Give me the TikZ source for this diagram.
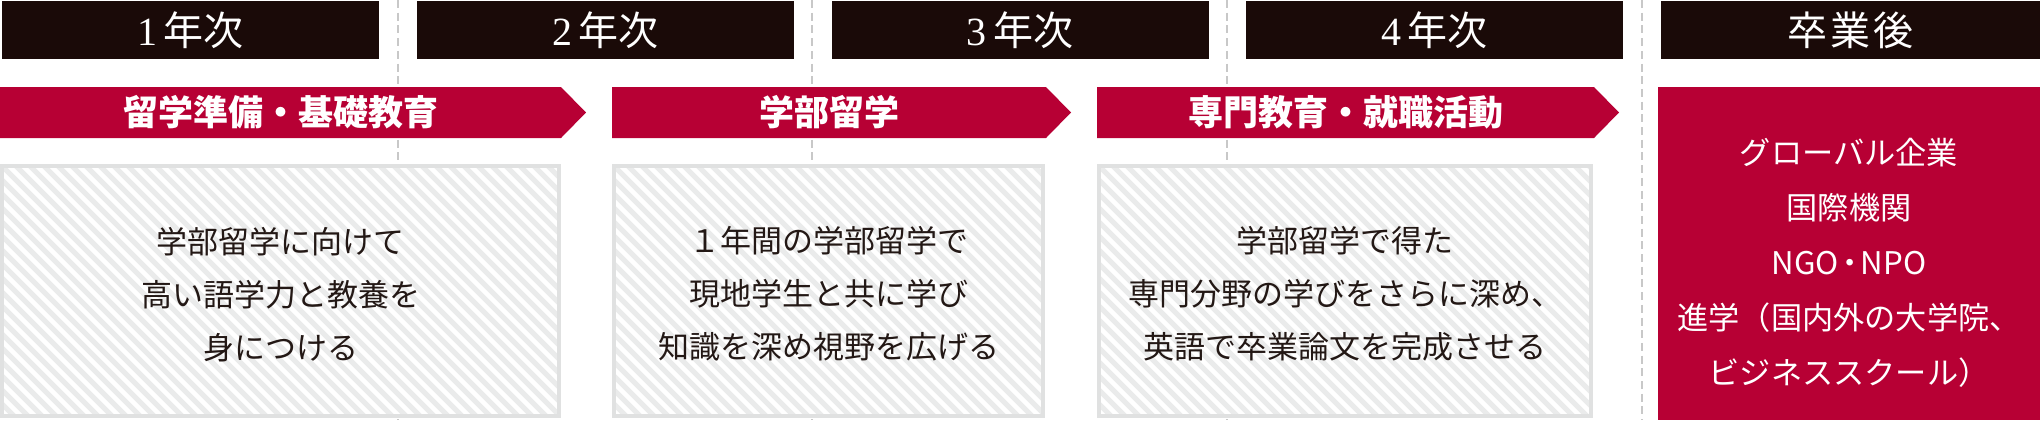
\documentclass[tikz,border=0pt]{standalone}
\usepackage{fontspec}
\setmainfont{Noto Sans CJK JP}
\newfontfamily\serifnum{Liberation Serif}
\definecolor{hdr}{RGB}{26,10,8}
\definecolor{crim}{RGB}{183,0,52}
\definecolor{bodytxt}{RGB}{35,24,21}
\definecolor{framegray}{RGB}{224,225,225}
\definecolor{stripecol}{RGB}{234,235,235}
\definecolor{dashgray}{RGB}{200,200,200}
\begin{document}
\begin{tikzpicture}[x=0.5pt,y=-0.5pt,
  yearbox/.style={fill=hdr, text=white, inner sep=0pt, minimum width=188.5pt, minimum height=29pt, font=\fontsize{20}{20}\selectfont},
  phaselbl/.style={text=white, inner sep=0pt, font=\fontsize{17.5}{17.5}\selectfont\bfseries},
  phasearrow/.style={fill=crim},
  hatchbox/.style={draw=framegray, line width=2pt, fill=white, inner sep=0pt, minimum height=125pt,
    path picture={\foreach \k in {-22,...,45}{\draw[stripecol, line width=2.6pt] ([xshift=\k*7pt]path picture bounding box.north west) -- ++(150pt,-150pt);}}},
  bodytext/.style={text=bodytxt, align=center, inner sep=0pt, font=\fontsize{15.5}{26.5}\selectfont},
  futbox/.style={fill=crim, inner sep=0pt, minimum width=191pt, minimum height=166.5pt},
  futtext/.style={text=white, align=center, inner sep=0pt, font=\fontsize{15.6}{27.5}\selectfont},
  divider/.style={draw=dashgray, line width=1pt, dash pattern=on 4pt off 2.35pt},
]
\useasboundingbox (0,0) rectangle (2040,420);
% dividers
\coordinate (d1t) at (398,0);  \coordinate (d1b) at (398,420);
\coordinate (d2t) at (812,0);  \coordinate (d2b) at (812,420);
\coordinate (d3t) at (1227,0); \coordinate (d3b) at (1227,420);
\coordinate (d4t) at (1642,0); \coordinate (d4b) at (1642,420);
\draw[divider] (d1t) -- (d1b);
\draw[divider] (d2t) -- (d2b);
\draw[divider] (d3t) -- (d3b);
\draw[divider] (d4t) -- (d4b);
% year headers
\node[yearbox] (h1) at (190.5,30) {{\serifnum 1}\,年次};
\node[yearbox] (h2) at (605.5,30) {{\serifnum 2}\,年次};
\node[yearbox] (h3) at (1020,30) {{\serifnum 3}\,年次};
\node[yearbox] (h4) at (1434.5,30) {{\serifnum 4}\,年次};
\node[yearbox, minimum width=189.5pt] (h5) at (1850.5,30) {卒\hspace{0.08em}業\hspace{0.08em}後};
% phase arrows
\fill[phasearrow] (0,87) -- (561,87) -- (586,112.5) -- (561,138) -- (0,138) -- cycle;
\fill[phasearrow] (612,87) -- (1046,87) -- (1071,112.5) -- (1046,138) -- (612,138) -- cycle;
\fill[phasearrow] (1097,87) -- (1594,87) -- (1619,112.5) -- (1594,138) -- (1097,138) -- cycle;
\node[phaselbl] (p1) at (280.5,112.5) {留学準備・基礎教育};
\node[phaselbl] (p2) at (829,112.5) {学部留学};
\node[phaselbl] (p3) at (1345.5,112.5) {専門教育・就職活動};
% hatched content boxes
\node[hatchbox, minimum width=278.5pt] (b1) at (280.5,291) {};
\node[hatchbox, minimum width=214.5pt] (b2) at (828.5,291) {};
\node[hatchbox, minimum width=246pt] (b3) at (1345,291) {};
\node[bodytext] (t1) at (280.5,295) {学部留学に向けて\\高い語学力と教養を\\身につける};
\node[bodytext] (t2) at (828.5,293.5) {１年間の学部留学で\\現地学生と共に学び\\知識を深め視野を広げる};
\node[bodytext] (t3) at (1345,294) {学部留学で得た\\専門分野の学びをさらに深め、\\英語で卒業論文を完成させる};
% after graduation
\node[futbox] (f) at (1849,253.5) {};
\node[futtext] (ft) at (1849,263) {グローバル企業\\国際機関\\NGO\hspace{-0.15em}・\hspace{-0.15em}NPO\\進学（国内外の大学院、\\ビジネススクール）};
\end{tikzpicture}
\end{document}
